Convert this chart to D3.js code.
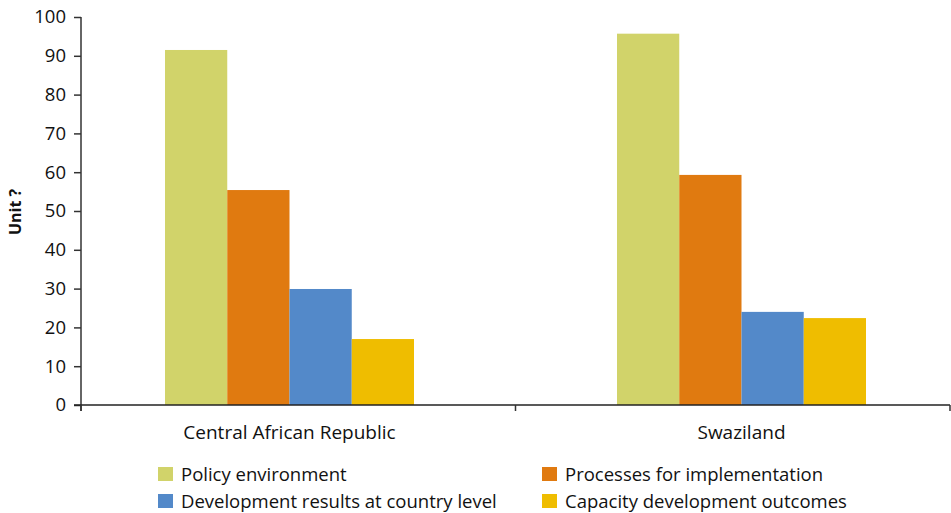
<!DOCTYPE html>
<html><head><meta charset="utf-8">
<script src="https://cdn.jsdelivr.net/npm/d3@7"></script>
<style>body{margin:0;background:#fff}svg{display:block}text{font-family:"Open Sans",sans-serif;fill:#111}</style>
</head><body><svg id="c" width="951" height="513"></svg>
<script>
const categories = ["Central African Republic", "Swaziland"];
const seriesNames = ["Policy environment", "Processes for implementation", "Development results at country level", "Capacity development outcomes"];
const seriesColors = ["#d1d36a", "#e07a10", "#5389c9", "#efbd00"];
const policyEnv = [91.5, 95.7];
const processes = [55.4, 59.3];
const devResults = [29.9, 24.0];
const capacity = [17.0, 22.4];
const yTicks = [0, 10, 20, 30, 40, 50, 60, 70, 80, 90, 100];
const yLabel = "Unit ?";

const values = [policyEnv, processes, devResults, capacity];
const svg = d3.select("#c");
const y = d3.scaleLinear().domain([0, 100]).range([405, 17]);
const x0 = d3.scaleBand().domain(categories).range([63.5, 967.5]);
const x1 = d3.scaleBand().domain(seriesNames).range([101.5, 350.5]);

// bars
categories.forEach((c, ci) => {
  seriesNames.forEach((s, si) => {
    const v = values[si][ci];
    svg.append("rect")
      .attr("x", x0(c) + x1(s))
      .attr("width", x1.bandwidth())
      .attr("y", y(v))
      .attr("height", y(0) - y(v))
      .attr("fill", seriesColors[si]);
  });
});

// y axis
const yAxis = svg.append("g").attr("transform", "translate(81,0)")
  .call(d3.axisLeft(y).tickValues(yTicks).tickSize(7).tickPadding(8).tickFormat(d3.format("d")));
yAxis.select(".domain").attr("stroke", "#333").attr("stroke-width", 1.5).attr("d", "M0,17V411");
yAxis.selectAll(".tick line").attr("stroke", "#333").attr("stroke-width", 1.5);
yAxis.selectAll(".tick text").style("font-size", "18.5px").style("font-family", "Open Sans").attr("fill", "#111");

// x axis
svg.append("line").attr("x1", 74).attr("x2", 950).attr("y1", y(0)).attr("y2", y(0)).attr("stroke", "#222").attr("stroke-width", 1.5);
const bounds = [x0(categories[0]) + 17.5, x0(categories[1]), 950];
bounds.forEach(b => svg.append("line").attr("x1", b).attr("x2", b).attr("y1", y(0)).attr("y2", y(0) + 6).attr("stroke", "#333").attr("stroke-width", 1.5));
categories.forEach(c => {
  svg.append("text").attr("x", x0(c) + x0.bandwidth() / 2).attr("y", 439)
    .attr("text-anchor", "middle").style("font-size", "19px").text(c);
});

// y label
svg.append("text").attr("transform", "translate(21,212) rotate(-90)")
  .attr("text-anchor", "middle").style("font-size", "16px").style("font-weight", "bold").text(yLabel);

// legend
const legPos = [[158, 467], [542, 467], [158, 494], [542, 494]];
seriesNames.forEach((s, i) => {
  const [lx, ly] = legPos[i];
  svg.append("rect").attr("x", lx).attr("y", ly).attr("width", 15).attr("height", 14).attr("fill", seriesColors[i]);
  svg.append("text").attr("x", lx + 23).attr("y", ly + 13.5).style("font-size", "18.5px").text(s);
});
</script></body></html>
